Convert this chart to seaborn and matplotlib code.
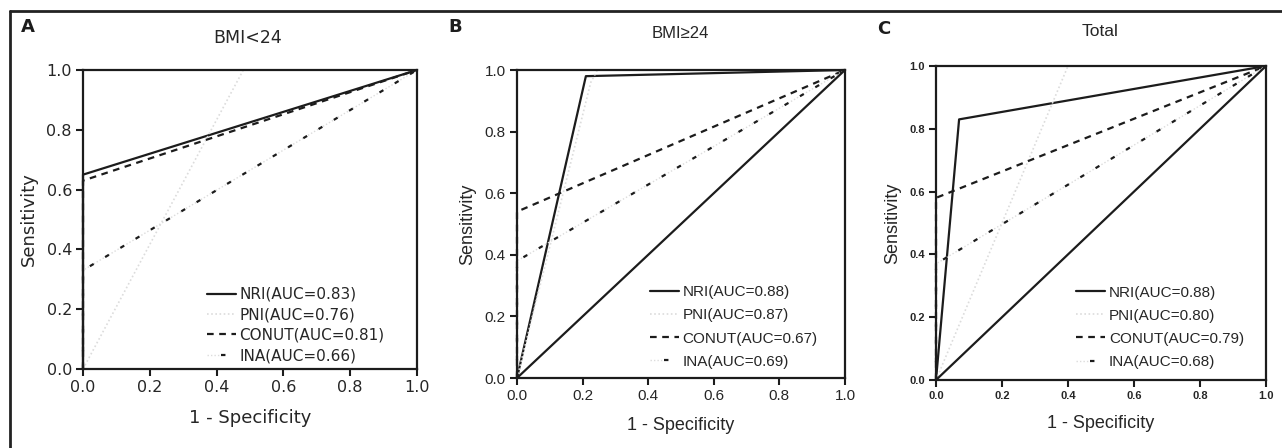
import numpy as np
import pandas as pd
import matplotlib
matplotlib.use('Agg')
import matplotlib.pyplot as plt
import seaborn as sns
from matplotlib.lines import Line2D
from matplotlib.legend_handler import HandlerTuple

sns.set_style('white')

# ROC points (1 - specificity, sensitivity)
nri_a_x, nri_a_y = [0, 0, 1], [0, 0.65, 1]
pni_a_x, pni_a_y = [0, 0.48, 1], [0, 1.0, 1]
conut_a_x, conut_a_y = [0, 0, 1], [0, 0.63, 1]
ina_a_x, ina_a_y = [0, 0, 1], [0, 0.33, 1]

nri_b_x, nri_b_y = [0, 0.21, 1], [0, 0.98, 1]
pni_b_x, pni_b_y = [0, 0.225, 0.245, 1], [0, 0.96, 1.0, 1]
conut_b_x, conut_b_y = [0, 0, 1], [0, 0.54, 1]
ina_b_x, ina_b_y = [0, 0, 1], [0, 0.38, 1]

nri_c_x, nri_c_y = [0, 0.07, 1], [0, 0.83, 1]
pni_c_x, pni_c_y = [0, 0.40, 1], [0, 1.0, 1]
conut_c_x, conut_c_y = [0, 0, 1], [0, 0.58, 1]
ina_c_x, ina_c_y = [0, 0, 1], [0, 0.37, 1]

ref_x, ref_y = [0, 1], [0, 1]

labels_a = ['NRI(AUC=0.83)', 'PNI(AUC=0.76)', 'CONUT(AUC=0.81)', 'INA(AUC=0.66)']
labels_b = ['NRI(AUC=0.88)', 'PNI(AUC=0.87)', 'CONUT(AUC=0.67)', 'INA(AUC=0.69)']
labels_c = ['NRI(AUC=0.88)', 'PNI(AUC=0.80)', 'CONUT(AUC=0.79)', 'INA(AUC=0.68)']
ticks = [0.0, 0.2, 0.4, 0.6, 0.8, 1.0]
tick_labels = ['0.0', '0.2', '0.4', '0.6', '0.8', '1.0']

BLACK = '#1c1c1c'
LIGHT = '#dcdcdc'
TXT = '#262626'

fig = plt.figure(figsize=(12.82, 4.48), dpi=100)

# outer frame (top and left edges)
fig.add_artist(Line2D([10 / 1282, 1], [1 - 11 / 448, 1 - 11 / 448], color='#222222', lw=2))
fig.add_artist(Line2D([10 / 1282, 10 / 1282], [0, 1 - 11 / 448], color='#222222', lw=2))


def draw_panel(rect, curves, labels, diag, font, tick_size, tick_weight,
               label_size, leg_size, leg_anchor, leg_space):
    ax = fig.add_axes(rect)
    nri, pni, conut, ina = curves
    sns.lineplot(x=nri[0], y=nri[1], ax=ax, color=BLACK, lw=1.6, sort=False,
                 estimator=None, clip_on=False)
    sns.lineplot(x=pni[0], y=pni[1], ax=ax, color=LIGHT, lw=1.2, sort=False,
                 estimator=None, linestyle=(0, (1, 1.5)), clip_on=False)
    sns.lineplot(x=conut[0], y=conut[1], ax=ax, color=BLACK, lw=1.6, sort=False,
                 estimator=None, linestyle=(0, (3, 2.5)), clip_on=False)
    sns.lineplot(x=ina[0], y=ina[1], ax=ax, color=LIGHT, lw=1.0, sort=False,
                 estimator=None, linestyle=(0, (1, 1.5)), clip_on=False)
    sns.lineplot(x=ina[0], y=ina[1], ax=ax, color=BLACK, lw=1.6, sort=False,
                 estimator=None, linestyle=(0, (2, 6)), clip_on=False)
    if diag:
        sns.lineplot(x=ref_x, y=ref_y, ax=ax, color=BLACK, lw=1.6, sort=False,
                     estimator=None, clip_on=False)

    ax.set_xlim(0, 1)
    ax.set_ylim(0, 1)
    ax.set_xticks(ticks)
    ax.set_yticks(ticks)
    ax.set_xticklabels(tick_labels, fontsize=tick_size, fontweight=tick_weight,
                       family=font, color=TXT)
    ax.set_yticklabels(tick_labels, fontsize=tick_size, fontweight=tick_weight,
                       family=font, color=TXT)
    ax.tick_params(axis='both', direction='out', length=5, width=1.5,
                   color=BLACK, bottom=True, left=True, pad=3)
    for sp in ax.spines.values():
        sp.set_visible(True)
        sp.set_color(BLACK)
        sp.set_linewidth(1.6)
    ax.set_xlabel('1 - Specificity', fontsize=label_size, family=font, color=TXT,
                  labelpad=10)
    ax.set_ylabel('Sensitivity', fontsize=label_size, family=font, color=TXT,
                  labelpad=6)

    handles = [
        Line2D([], [], color=BLACK, lw=1.6),
        Line2D([], [], color=LIGHT, lw=1.2, linestyle=(0, (1, 1.5))),
        Line2D([], [], color=BLACK, lw=1.6, linestyle=(0, (3, 2.5))),
        (Line2D([], [], color=LIGHT, lw=1.0, linestyle=(0, (1, 1.5))),
         Line2D([], [], color=BLACK, lw=1.6, linestyle=(0, (2, 6)))),
    ]
    ax.legend(handles, labels, loc='lower left', bbox_to_anchor=leg_anchor,
              frameon=False, borderaxespad=0, borderpad=0, handlelength=1.9,
              handletextpad=0.25, labelspacing=leg_space,
              prop={'family': font, 'size': leg_size},
              handler_map={tuple: HandlerTuple(ndivide=None, pad=0)})
    for t in ax.get_legend().get_texts():
        t.set_color(TXT)
    return ax


ax_a = draw_panel([83 / 1282, 79 / 448, 334 / 1282, 299 / 448],
                  [(nri_a_x, nri_a_y), (pni_a_x, pni_a_y), (conut_a_x, conut_a_y), (ina_a_x, ina_a_y)],
                  labels_a, False, 'DejaVu Sans', 11.5, 'normal',
                  13, 11, (0.37, 0.02), 0.35)
ax_b = draw_panel([517 / 1282, 70 / 448, 328 / 1282, 308 / 448],
                  [(nri_b_x, nri_b_y), (pni_b_x, pni_b_y), (conut_b_x, conut_b_y), (ina_b_x, ina_b_y)],
                  labels_b, True, 'Liberation Sans', 11, 'normal',
                  13, 11, (0.405, 0.03), 0.6)
ax_c = draw_panel([936 / 1282, 68 / 448, 330 / 1282, 314 / 448],
                  [(nri_c_x, nri_c_y), (pni_c_x, pni_c_y), (conut_c_x, conut_c_y), (ina_c_x, ina_c_y)],
                  labels_c, True, 'Liberation Sans', 8, 'bold',
                  13, 11, (0.424, 0.035), 0.6)

# titles and panel letters
fig.text(248 / 1282, 1 - 38 / 448, 'BMI<24', ha='center', va='center', fontsize=12.5,
         family='DejaVu Sans', color=TXT)
fig.text(680 / 1282, 1 - 34 / 448, 'BMI≥24', ha='center', va='center', fontsize=12,
         family='Liberation Sans', color=TXT)
fig.text(1100 / 1282, 1 - 32 / 448, 'Total', ha='center', va='center', fontsize=12.5,
         family='Liberation Sans', color=TXT)
for x, y, s in [(28, 27, 'A'), (455, 27, 'B'), (884, 29, 'C')]:
    fig.text(x / 1282, 1 - y / 448, s, ha='center', va='center', fontsize=13,
             fontweight='bold', family='DejaVu Sans', color=BLACK)

fig.savefig('out.png', dpi=100)
